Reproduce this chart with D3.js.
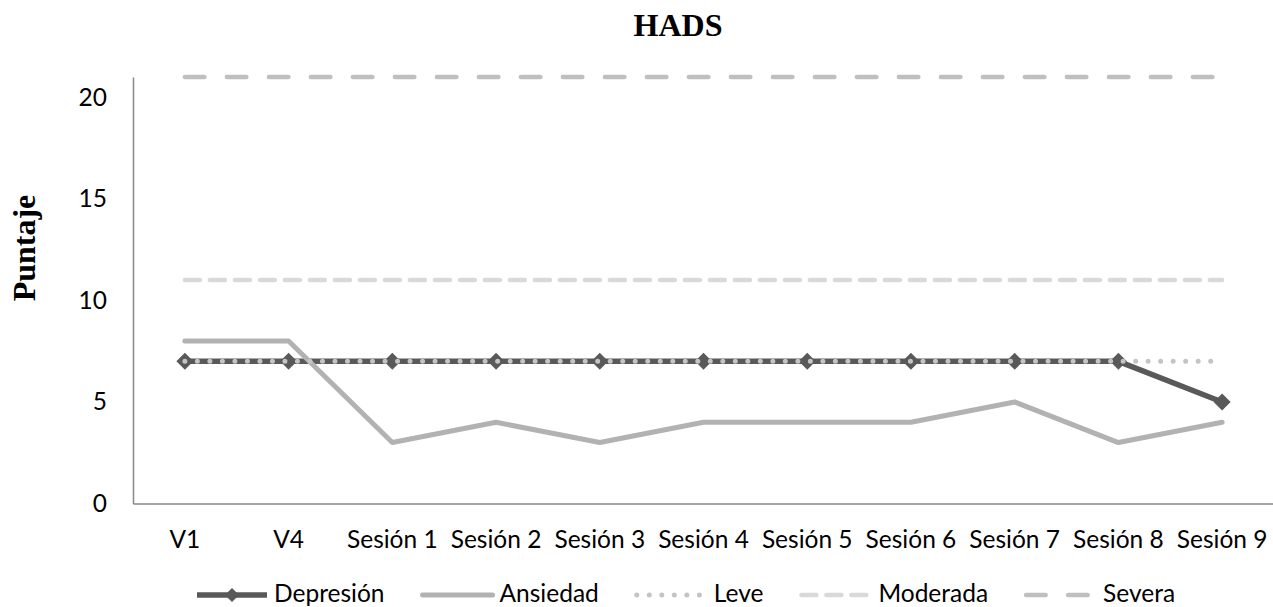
<!DOCTYPE html>
<html>
<head>
<meta charset="utf-8">
<script src="https://cdn.jsdelivr.net/npm/d3@7"></script>
<style>
  html, body { margin: 0; padding: 0; background: #fff; }
  svg { display: block; }
</style>
</head>
<body>
<svg id="chart" width="1273" height="607"></svg>
<script>
const categories = ["V1", "V4", "Sesión 1", "Sesión 2", "Sesión 3", "Sesión 4", "Sesión 5", "Sesión 6", "Sesión 7", "Sesión 8", "Sesión 9"];
const depresion = [7, 7, 7, 7, 7, 7, 7, 7, 7, 7, 5];
const ansiedad  = [8, 8, 3, 4, 3, 4, 4, 4, 5, 3, 4];
const leve      = [7, 7, 7, 7, 7, 7, 7, 7, 7, 7, 7];
const moderada  = [11, 11, 11, 11, 11, 11, 11, 11, 11, 11, 11];
const severa    = [21, 21, 21, 21, 21, 21, 21, 21, 21, 21, 21];
const yTicks = [0, 5, 10, 15, 20];
const seriesNames = ["Depresión", "Ansiedad", "Leve", "Moderada", "Severa"];

const FONT = "Lato, 'Open Sans', sans-serif";
const FS = 24.5;

const svg = d3.select("#chart");
const pLeft = 133, pRight = 1274, pTop = 77, pBottom = 503.5;

const x = d3.scaleBand().domain(categories).range([pLeft, pRight]);
const cx = c => x(c) + x.bandwidth() / 2;
const y = d3.scaleLinear().domain([0, 21]).range([pBottom, pTop]);

// Title
svg.append("text").attr("x", 678).attr("y", 36).attr("text-anchor", "middle")
  .attr("font-family", "'Liberation Serif', 'Times New Roman', serif")
  .attr("font-weight", "bold").attr("font-size", 32).attr("fill", "#000").text("HADS");

// Y axis title
svg.append("text").attr("transform", "translate(35,248) rotate(-90)")
  .attr("text-anchor", "middle")
  .attr("font-family", "'Liberation Serif', 'Times New Roman', serif")
  .attr("font-weight", "bold").attr("font-size", 32).attr("fill", "#000").text("Puntaje");

// Y axis
const yAxis = d3.axisLeft(y).tickValues(yTicks).tickSize(0).tickPadding(26);
const gy = svg.append("g").attr("transform", `translate(${pLeft},0)`).call(yAxis);
gy.select(".domain").attr("stroke", "#868686").attr("stroke-width", 1.5);
gy.selectAll("text").attr("font-family", FONT).attr("font-size", FS).attr("fill", "#000");

// X axis
const xAxis = d3.axisBottom(x).tickSize(0).tickPadding(27);
const gx = svg.append("g").attr("transform", `translate(0,${pBottom})`).call(xAxis);
gx.select(".domain").attr("stroke", "#868686").attr("stroke-width", 1.5);
gx.selectAll("text").attr("font-family", FONT).attr("font-size", FS).attr("fill", "#000");

const line = d3.line().x((d, i) => cx(categories[i])).y(d => y(d));

const styles = {
  "Depresión": { data: depresion, color: "#595959", width: 5.5, dash: null, cap: "butt" },
  "Ansiedad":  { data: ansiedad,  color: "#b2b2b2", width: 5, dash: null, cap: "round" },
  "Leve":      { data: leve,      color: "#c4c4c4", width: 5, dash: "0.01 12.5", cap: "round" },
  "Moderada":  { data: moderada,  color: "#d9d9d9", width: 4.5, dash: "15 10", cap: "round" },
  "Severa":    { data: severa,    color: "#bfbfbf", width: 4.5, dash: "19.5 22.5", cap: "round" }
};

const diamond = d3.symbol().type(d3.symbolSquare).size(144);

seriesNames.forEach(name => {
  const s = styles[name];
  svg.append("path").datum(s.data).attr("d", line)
    .attr("fill", "none").attr("stroke", s.color).attr("stroke-width", s.width)
    .attr("stroke-linecap", s.cap).attr("stroke-linejoin", "round")
    .attr("stroke-dasharray", s.dash);
  if (name === "Depresión") {
    svg.append("g").selectAll("path").data(s.data).join("path")
      .attr("d", diamond)
      .attr("transform", (d, i) => `translate(${cx(categories[i])},${y(d)}) rotate(45)`)
      .attr("fill", s.color);
  }
});

// Legend
const legend = svg.append("g");
const lineLen = 70, gapText = 7, gapItem = 38, ly = 595;
let lx = 197;
seriesNames.forEach(name => {
  const s = styles[name];
  legend.append("line").attr("x1", lx).attr("x2", lx + lineLen).attr("y1", ly).attr("y2", ly)
    .attr("stroke", s.color).attr("stroke-width", s.width)
    .attr("stroke-linecap", s.cap).attr("stroke-dasharray", s.dash);
  if (name === "Depresión") {
    legend.append("path").attr("d", d3.symbol().type(d3.symbolSquare).size(100))
      .attr("transform", `translate(${lx + lineLen / 2},${ly}) rotate(45)`).attr("fill", s.color);
  }
  const t = legend.append("text").attr("x", lx + lineLen + gapText).attr("y", ly + 7)
    .attr("font-family", FONT).attr("font-size", FS).attr("fill", "#000").text(name);
  lx += lineLen + gapText + t.node().getComputedTextLength() + gapItem;
});
</script>
</body>
</html>
